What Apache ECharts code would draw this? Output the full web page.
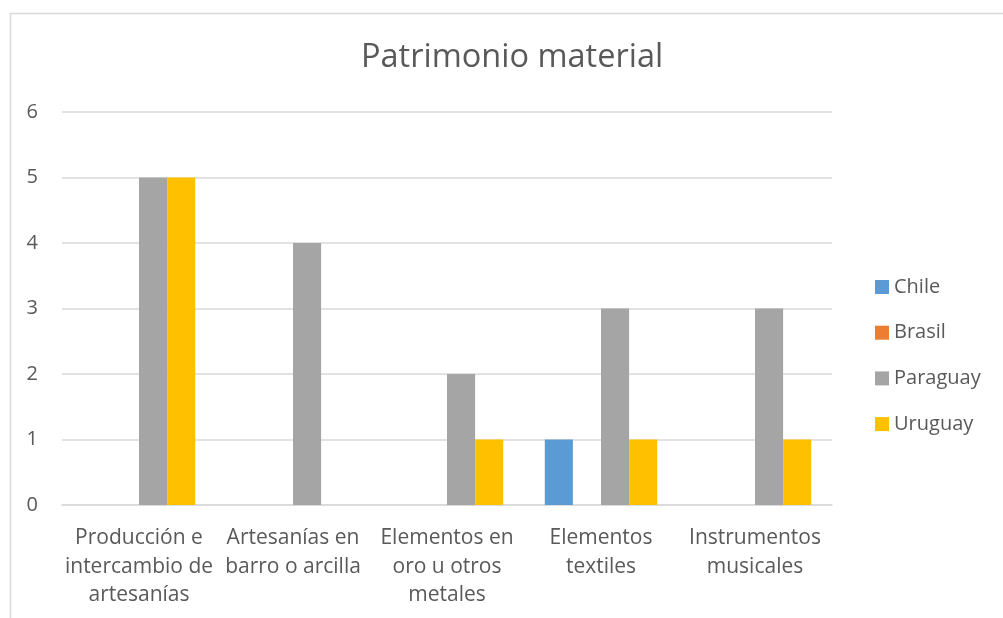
<!DOCTYPE html>
<html><head><meta charset="utf-8">
<script src="https://cdn.jsdelivr.net/npm/echarts@6/dist/echarts.min.js"></script>
<style>html,body{margin:0;padding:0;background:#fff}#c{width:1003px;height:618px}</style>
</head><body><div id="c"></div>
<script>
const categories = ["Producción e\nintercambio de\nartesanías","Artesanías en\nbarro o arcilla","Elementos en\noro u otros\nmetales","Elementos\ntextiles","Instrumentos\nmusicales"];
const chile = [0,0,0,1,0];
const brasil = [0,0,0,0,0];
const paraguay = [5,4,2,3,3];
const uruguay = [5,0,1,1,1];
const seriesNames = ["Chile","Brasil","Paraguay","Uruguay"];
const colors = ["#5b9bd5","#ed7d31","#a5a5a5","#ffc000"];
const FONT = "'Open Sans', 'Liberation Sans', sans-serif";
const chart = echarts.init(document.getElementById('c'));
const data = [chile, brasil, paraguay, uruguay];
chart.setOption({
  animation:false,
  textStyle:{fontFamily:FONT},
  graphic:[{type:'rect',shape:{x:10.5,y:13.5,width:1100,height:700},style:{fill:'none',stroke:'#d9d9d9',lineWidth:1.5},silent:true}],
  title:{text:"Patrimonio material",left:356,top:36,textStyle:{fontFamily:FONT,fontSize:32.5,fontWeight:'normal',color:'#595959'}},
  legend:{orient:'vertical',left:870,top:272,itemWidth:14,itemHeight:14,itemGap:25.7,icon:'rect',
    textStyle:{fontFamily:FONT,fontSize:20,color:'#595959'},data:seriesNames},
  grid:{left:62,right:171,top:112,bottom:113,containLabel:false},
  xAxis:{type:'category',data:categories,axisTick:{show:false},
    axisLine:{lineStyle:{color:'#d9d9d9',width:1.5}},
    axisLabel:{fontFamily:FONT,fontSize:21,color:'#595959',lineHeight:28.5,margin:19,interval:0}},
  yAxis:{type:'value',min:0,max:6,interval:1,axisLine:{show:false},axisTick:{show:false},
    splitLine:{lineStyle:{color:'#d9d9d9',width:1.5}},
    axisLabel:{fontFamily:FONT,fontSize:20,color:'#595959',margin:24}},
  series:data.map((d,i)=>({name:seriesNames[i],type:'bar',data:d,barGap:'0%',barCategoryGap:'27%',itemStyle:{color:colors[i]}}))
});
</script></body></html>
